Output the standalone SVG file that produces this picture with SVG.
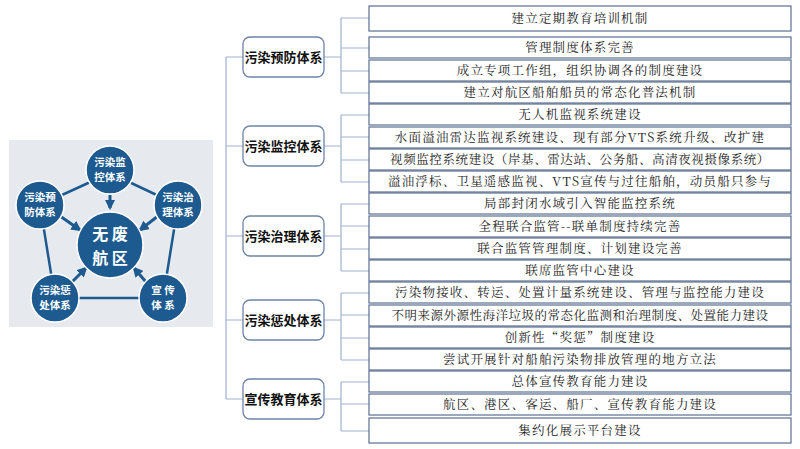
<svg xmlns="http://www.w3.org/2000/svg" width="800" height="449" viewBox="0 0 800 449">
<style>
.cat{fill:#fff;stroke:#6d84a8;stroke-width:1.3}
.cat-t{font-family:"Noto Sans CJK SC",sans-serif;font-size:13px;font-weight:bold;fill:#111;text-anchor:middle}
.item{fill:#fff;stroke:#5a6e90;stroke-width:1.2}
.item-t{font-family:"Noto Serif CJK SC","Noto Sans CJK SC",serif;font-size:12.5px;letter-spacing:1.2px;fill:#222;text-anchor:middle}
.con{stroke:#9fb2d0;stroke-width:1.2;fill:none}
.c{fill:#1d5a8f;stroke:#fff;stroke-width:1.5}
.ct{font-family:"Noto Sans CJK SC",sans-serif;font-size:10.5px;font-weight:bold;fill:#fff;text-anchor:middle}
.big{font-family:"Noto Sans CJK SC",sans-serif;font-size:16px;font-weight:bold;fill:#fff;text-anchor:middle}
.pent{stroke:#1d5a8f;stroke-width:2.5;fill:none}
.arr{stroke:#1d5a8f;stroke-width:3;fill:none;marker-end:url(#ah)}
</style>
<defs>
<marker id="ah" viewBox="0 0 10 10" refX="8" refY="5" markerWidth="3.5" markerHeight="3.5" orient="auto"><path d="M0,0L10,5L0,10z" fill="#1d5a8f"/></marker>
</defs>
<rect width="800" height="449" fill="#fff"/>
<g id="wheel">
<rect x="9" y="140" width="204" height="187" fill="#e6e9ee"/>
<polygon class="pent" points="110,173 178,205 163,298 55,298 40,205"/>
<path class="arr" d="M110,195 L110,208"/>
<path class="arr" d="M60,216 L80,230"/>
<path class="arr" d="M158,216 L140,230"/>
<path class="arr" d="M72,282 L86,268"/>
<path class="arr" d="M146,282 L134,268"/>
<circle class="c" cx="110" cy="245" r="33"/>
<text class="big" x="110" y="240">无 废</text>
<text class="big" x="110" y="264">航 区</text>
<circle class="c" cx="110" cy="170" r="24"/>
<text class="ct" x="110" y="166">污染监</text><text class="ct" x="110" y="181">控体系</text>
<circle class="c" cx="40" cy="205" r="24"/>
<text class="ct" x="40" y="201">污染预</text><text class="ct" x="40" y="216">防体系</text>
<circle class="c" cx="178" cy="205" r="24"/>
<text class="ct" x="178" y="201">污染治</text><text class="ct" x="178" y="216">理体系</text>
<circle class="c" cx="55" cy="298" r="24"/>
<text class="ct" x="55" y="294">污染惩</text><text class="ct" x="55" y="309">处体系</text>
<circle class="c" cx="163" cy="298" r="24"/>
<text class="ct" x="163" y="294">宣  传</text><text class="ct" x="163" y="309">体  系</text>
</g>
<g id="connectors">
<path class="con" d="M226,57 V399 M226,57 H243 M226,146 H243 M226,236 H243 M226,320 H243 M226,399 H243"/>
<path class="con" d="M324,57 H341 M341,18 V93 M341,18 H369 M341,48 H369 M341,71 H369 M341,93 H369"/>
<path class="con" d="M324,146 H341 M341,115 V182 M341,115 H369 M341,137 H369 M341,160 H369 M341,182 H369"/>
<path class="con" d="M324,236 H341 M341,204 V271 M341,204 H369 M341,226 H369 M341,249 H369 M341,271 H369"/>
<path class="con" d="M324,320 H341 M341,293 V360 M341,293 H369 M341,315 H369 M341,338 H369 M341,360 H369"/>
<path class="con" d="M324,399 H341 M341,382 V431 M341,382 H369 M341,404 H369 M341,431 H369"/>
</g>
<g id="cat1"><rect class="cat" x="243" y="37" width="81" height="40" rx="7"/><text class="cat-t" x="283.5" y="62">污染预防体系</text></g>
<g id="cat2"><rect class="cat" x="243" y="126" width="81" height="40" rx="7"/><text class="cat-t" x="283.5" y="151">污染监控体系</text></g>
<g id="cat3"><rect class="cat" x="243" y="216" width="81" height="40" rx="7"/><text class="cat-t" x="283.5" y="241">污染治理体系</text></g>
<g id="cat4"><rect class="cat" x="243" y="300" width="81" height="40" rx="7"/><text class="cat-t" x="283.5" y="325">污染惩处体系</text></g>
<g id="cat5"><rect class="cat" x="243" y="379" width="81" height="40" rx="7"/><text class="cat-t" x="283.5" y="404">宣传教育体系</text></g>
<g id="items">
<g id="i1"><rect class="item" x="369" y="6" width="422" height="25"/><text class="item-t" x="580" y="23">建立定期教育培训机制</text></g>
<g id="i2"><rect class="item" x="369" y="37" width="422" height="21"/><text class="item-t" x="580" y="52">管理制度体系完善</text></g>
<g id="i3"><rect class="item" x="369" y="60" width="422" height="21"/><text class="item-t" x="580" y="75">成立专项工作组，组织协调各的制度建设</text></g>
<g id="i4"><rect class="item" x="369" y="82" width="422" height="21"/><text class="item-t" x="580" y="97">建立对航区船舶船员的常态化普法机制</text></g>
<g id="i5"><rect class="item" x="369" y="104" width="422" height="21"/><text class="item-t" x="580" y="119">无人机监视系统建设</text></g>
<g id="i6"><rect class="item" x="369" y="127" width="422" height="21"/><text class="item-t" x="580" y="142">水面溢油雷达监视系统建设、现有部分VTS系统升级、改扩建</text></g>
<g id="i7"><rect class="item" x="369" y="149" width="422" height="21"/><text class="item-t" x="580" y="164" style="letter-spacing:0.6px">视频监控系统建设（岸基、雷达站、公务船、高清夜视摄像系统）</text></g>
<g id="i8"><rect class="item" x="369" y="171" width="422" height="21"/><text class="item-t" x="580" y="186">溢油浮标、卫星遥感监视、VTS宣传与过往船舶，动员船只参与</text></g>
<g id="i9"><rect class="item" x="369" y="193" width="422" height="21"/><text class="item-t" x="580" y="208">局部封闭水域引入智能监控系统</text></g>
<g id="i10"><rect class="item" x="369" y="216" width="422" height="21"/><text class="item-t" x="580" y="231">全程联合监管--联单制度持续完善</text></g>
<g id="i11"><rect class="item" x="369" y="238" width="422" height="21"/><text class="item-t" x="580" y="253">联合监管管理制度、计划建设完善</text></g>
<g id="i12"><rect class="item" x="369" y="260" width="422" height="21"/><text class="item-t" x="580" y="275">联席监管中心建设</text></g>
<g id="i13"><rect class="item" x="369" y="282" width="422" height="21"/><text class="item-t" x="580" y="297">污染物接收、转运、处置计量系统建设、管理与监控能力建设</text></g>
<g id="i14"><rect class="item" x="369" y="305" width="422" height="21"/><text class="item-t" x="580" y="320" style="letter-spacing:0.5px">不明来源外源性海洋垃圾的常态化监测和治理制度、处置能力建设</text></g>
<g id="i15"><rect class="item" x="369" y="327" width="422" height="21"/><text class="item-t" x="580" y="342">创新性“奖惩”制度建设</text></g>
<g id="i16"><rect class="item" x="369" y="349" width="422" height="21"/><text class="item-t" x="580" y="364">尝试开展针对船舶污染物排放管理的地方立法</text></g>
<g id="i17"><rect class="item" x="369" y="371" width="422" height="21"/><text class="item-t" x="580" y="386">总体宣传教育能力建设</text></g>
<g id="i18"><rect class="item" x="369" y="394" width="422" height="21"/><text class="item-t" x="580" y="409">航区、港区、客运、船厂、宣传教育能力建设</text></g>
<g id="i19"><rect class="item" x="369" y="418" width="422" height="25"/><text class="item-t" x="580" y="435">集约化展示平台建设</text></g>
</g>
</svg>
